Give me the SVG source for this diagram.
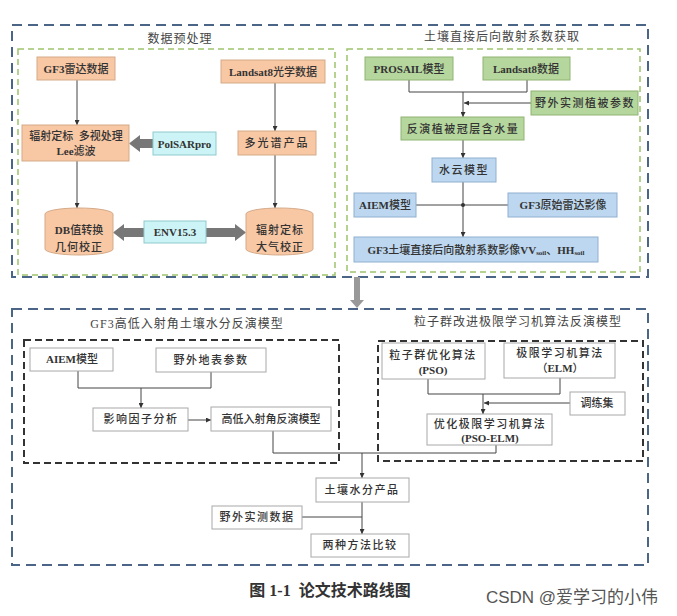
<svg xmlns="http://www.w3.org/2000/svg" width="677" height="616" viewBox="0 0 677 616">
<defs>
<marker id="ah" viewBox="0 0 8 8" refX="8" refY="4" markerWidth="5" markerHeight="5" orient="auto" markerUnits="userSpaceOnUse">
<path d="M0,0 L8,4 L0,8 Z" fill="#333"/>
</marker>
<style>
text{font-family:"Liberation Serif","Noto Sans CJK SC",serif;font-size:11px;fill:#333;text-anchor:middle;dominant-baseline:central;font-weight:500;}
.b{font-weight:bold;}
.t{font-size:12px;font-weight:normal;fill:#444;letter-spacing:1px;}
.blue{fill:none;stroke:#4a6585;stroke-width:2;stroke-dasharray:10 6;}
.green{fill:none;stroke:#9dc46e;stroke-width:1.5;stroke-dasharray:6 4;}
.black{fill:none;stroke:#333;stroke-width:2;stroke-dasharray:7 4;}
.or{fill:#f8c7a3;stroke:#d5aa88;stroke-width:1;}
.cy{fill:#ccf3f5;stroke:#8fc9cf;stroke-width:1;}
.gr{fill:#b5d69d;stroke:#8fb473;stroke-width:1;}
.bl{fill:#bcd7ef;stroke:#90b0d0;stroke-width:1;}
.wh{fill:#fff;stroke:#a8a8a8;stroke-width:1;}
.ln{fill:none;stroke:#444;stroke-width:1;}
.ar{fill:none;stroke:#444;stroke-width:1;marker-end:url(#ah);}
.thick{fill:#777;stroke:none;}
.cap{font-size:16px;fill:#333;font-weight:bold;}
.wm{font-family:"Liberation Sans","Noto Sans CJK SC",sans-serif;font-size:17px;font-weight:normal;fill:#555;}
</style>
</defs>
<rect width="677" height="616" fill="#fff"/>

<g id="frames">
<rect class="blue" x="12" y="25" width="636" height="252"/>
<rect class="green" x="18" y="49" width="317" height="226"/>
<rect class="green" x="347" y="49" width="293" height="223"/>
<rect class="blue" x="12" y="309" width="636" height="256"/>
<rect class="black" x="24" y="340" width="315" height="123"/>
<rect class="black" x="378" y="341" width="265" height="120"/>
<text class="t" x="180" y="39">数据预处理</text>
<text class="t" x="502" y="37">土壤直接后向散射系数获取</text>
<text class="t" x="187" y="324">GF3高低入射角土壤水分反演模型</text>
<text class="t" x="518" y="322">粒子群改进极限学习机算法反演模型</text>
</g>

<g id="connectors">
<line class="ar" x1="77" y1="80" x2="77" y2="125"/>
<line class="ar" x1="275" y1="83" x2="275" y2="131"/>
<line class="ar" x1="77" y1="161" x2="77" y2="208"/>
<line class="ar" x1="275" y1="155" x2="275" y2="208"/>
<polygon class="thick" points="153,139 140,139 140,135 129,143.5 140,152 140,148 153,148"/>
<polygon class="thick" points="144,228 124,228 124,224 113,232.5 124,241 124,237 144,237"/>
<polygon class="thick" points="206,228 235,228 235,224 246,232.5 235,241 235,237 206,237"/>
<polyline class="ln" points="409,80 409,92 527,92 527,80"/>
<line class="ar" x1="531" y1="103" x2="464" y2="103"/>
<line class="ar" x1="463" y1="92" x2="463" y2="117"/>
<line class="ar" x1="463" y1="140" x2="463" y2="158"/>
<line class="ln" x1="416" y1="205" x2="508" y2="205"/>
<line class="ar" x1="463" y1="182" x2="463" y2="237"/>
<circle cx="463" cy="205" r="2" fill="#333"/>
<polygon points="354,277 360,277 360,300 364,300 357,308 350,300 354,300" fill="#999"/>
<polyline class="ln" points="78,371 78,388 211,388 211,372"/>
<line class="ar" x1="141" y1="388" x2="141" y2="408"/>
<line class="ar" x1="188" y1="420" x2="211" y2="420"/>
<polyline class="ln" points="273,431 273,453 496,453 496,445"/>
<polyline class="ln" points="428,379 428,394 560,394 560,378"/>
<line class="ar" x1="570" y1="403" x2="484" y2="403"/>
<line class="ar" x1="483" y1="394" x2="483" y2="414"/>
<line class="ar" x1="362" y1="453" x2="362" y2="478"/>
<line class="ln" x1="302" y1="517" x2="362" y2="517"/>
<line class="ar" x1="362" y1="502" x2="362" y2="534"/>
</g>

<g id="n-gf3"><rect class="or" x="37" y="57" width="78" height="23"/><text x="76" y="69"><tspan class="b">GF3</tspan>雷达数据</text></g>
<g id="n-landsat8"><rect class="or" x="221" y="60" width="104" height="23"/><text x="273" y="72"><tspan class="b">Landsat8</tspan>光学数据</text></g>
<g id="n-fushe"><rect class="or" x="22" y="125" width="107" height="36"/><text x="76" y="136">辐射定标&#160;&#160;多视处理</text><text x="76" y="151"><tspan class="b">Lee</tspan>滤波</text></g>
<g id="n-polsar"><rect class="cy" x="153" y="132" width="63" height="23"/><text class="b" x="184.5" y="144">PolSARpro</text></g>
<g id="n-duoguang"><rect class="or" x="238" y="131" width="78" height="24"/><text x="277" y="143" style="letter-spacing:2px">多光谱产品</text></g>
<g id="n-db"><path class="or" d="M45,214 A34,6 0 0 1 113,214 V249 A34,6 0 0 1 45,249 Z"/><text x="79" y="230"><tspan class="b">DB</tspan>值转换</text><text x="79" y="247" style="letter-spacing:1px">几何校正</text></g>
<g id="n-env"><rect class="cy" x="144" y="221" width="62" height="22"/><text class="b" x="175" y="232">ENV15.3</text></g>
<g id="n-daqi"><path class="or" d="M246,214 A33.5,6 0 0 1 313,214 V249 A33.5,6 0 0 1 246,249 Z"/><text x="280" y="230" style="letter-spacing:1px">辐射定标</text><text x="280" y="247" style="letter-spacing:1px">大气校正</text></g>

<g id="n-prosail"><rect class="gr" x="365" y="57" width="88" height="23"/><text x="409" y="69"><tspan class="b">PROSAIL</tspan>模型</text></g>
<g id="n-landsat8d"><rect class="gr" x="483" y="57" width="87" height="23"/><text x="526" y="69"><tspan class="b">Landsat8</tspan>数据</text></g>
<g id="n-yewai"><rect class="gr" x="531" y="91" width="107" height="24"/><text x="585" y="103" style="letter-spacing:1.5px">野外实测植被参数</text></g>
<g id="n-fanyan"><rect class="gr" x="401" y="117" width="123" height="23"/><text x="463" y="129" style="letter-spacing:1.5px">反演植被冠层含水量</text></g>
<g id="n-shuiyun"><rect class="bl" x="432" y="158" width="64" height="24"/><text x="464" y="170" style="letter-spacing:1.5px">水云模型</text></g>
<g id="n-aiem1"><rect class="bl" x="354" y="193" width="62" height="24"/><text x="385" y="205"><tspan class="b">AIEM</tspan>模型</text></g>
<g id="n-gf3raw"><rect class="bl" x="508" y="193" width="109" height="24"/><text x="563" y="205"><tspan class="b">GF3</tspan>原始雷达影像</text></g>
<g id="n-gf3soil"><rect class="bl" x="354" y="237" width="244" height="25"/><text x="476" y="250"><tspan class="b">GF3</tspan>土壤直接后向散射系数影像<tspan class="b">VV</tspan><tspan class="b" font-size="7" dy="3">soil</tspan><tspan dy="-3">、</tspan><tspan class="b">HH</tspan><tspan class="b" font-size="7" dy="3">soil</tspan></text></g>

<g id="n-aiem2"><rect class="wh" x="30" y="348" width="83" height="23"/><text x="72" y="359"><tspan class="b">AIEM</tspan>模型</text></g>
<g id="n-dibiao"><rect class="wh" x="156" y="348" width="110" height="24"/><text x="211" y="360" style="letter-spacing:1.5px">野外地表参数</text></g>
<g id="n-yingxiang"><rect class="wh" x="93" y="408" width="95" height="23"/><text x="141" y="419" style="letter-spacing:1.5px">影响因子分析</text></g>
<g id="n-gaodi"><rect class="wh" x="211" y="407" width="120" height="24"/><text x="271" y="419">高低入射角反演模型</text></g>
<g id="n-pso"><rect class="wh" x="382" y="343" width="103" height="36"/><text x="433" y="355" style="letter-spacing:1.5px">粒子群优化算法</text><text class="b" x="433" y="370">(PSO)</text></g>
<g id="n-elm"><rect class="wh" x="504" y="343" width="111" height="35"/><text x="560" y="353" style="letter-spacing:1.5px">极限学习机算法</text><text x="560" y="368">（<tspan class="b">ELM</tspan>）</text></g>
<g id="n-xunlian"><rect class="wh" x="570" y="392" width="55" height="23"/><text x="597" y="403">调练集</text></g>
<g id="n-psoelm"><rect class="wh" x="427" y="414" width="125" height="31"/><text x="490" y="424" style="letter-spacing:1.5px">优化极限学习机算法</text><text class="b" x="490" y="438">(PSO-ELM)</text></g>
<g id="n-chanpin"><rect class="wh" x="316" y="478" width="93" height="24"/><text x="362" y="490" style="letter-spacing:1.5px">土壤水分产品</text></g>
<g id="n-shice"><rect class="wh" x="212" y="506" width="90" height="23"/><text x="257" y="517" style="letter-spacing:1.5px">野外实测数据</text></g>
<g id="n-bijiao"><rect class="wh" x="311" y="534" width="98" height="23"/><text x="360" y="545" style="letter-spacing:1.5px">两种方法比较</text></g>

<text class="cap" x="330" y="590">图 1-1&#160;&#160;论文技术路线图</text>
<text class="wm" x="572" y="597">CSDN @爱学习的小伟</text>
</svg>
